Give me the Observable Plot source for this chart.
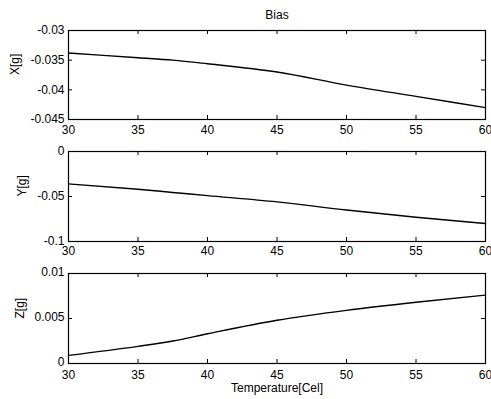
<!DOCTYPE html>
<html>
<head>
<meta charset="utf-8">
<script src="https://cdn.jsdelivr.net/npm/d3@7"></script>
<script src="https://cdn.jsdelivr.net/npm/@observablehq/plot@0.6"></script>
<style>
  html, body { margin: 0; padding: 0; background: #fff; }
  #chart { width: 491px; height: 399px; }
  #chart svg { display: block; }
</style>
</head>
<body>
<div id="chart"></div>
<script>
const title = "Bias";
const xLabel = "Temperature[Cel]";
const temps = [30, 35, 37.5, 40, 45, 50, 55, 60];
const xBias = [-0.0338, -0.0346, -0.0350, -0.0356, -0.0370, -0.0392, -0.0411, -0.0430];
const yBias = [-0.036, -0.042, -0.0455, -0.049, -0.056, -0.065, -0.073, -0.080];
const zBias = [0.0009, 0.0019, 0.0025, 0.0033, 0.0048, 0.0059, 0.0068, 0.0076];
const xTicks = [30, 35, 40, 45, 50, 55, 60];
const xYTicks = [-0.045, -0.04, -0.035, -0.03];
const yYTicks = [-0.1, -0.05, 0];
const zYTicks = [0, 0.005, 0.01];

const W = 491, ML = 68, MR = 6;
const PW = W - ML - MR;

function panel({values, domain, yTicks, label, labelDx, height, marginTop, marginBottom, showTitle, showXLabel, xPad = 5, yDy = 0}) {
  const ph = height - marginTop - marginBottom;
  const marks = [
    Plot.frame({stroke: "black", strokeWidth: 1.2}),
    Plot.tickX(xTicks, {x: d => d, insetTop: ph - 4, stroke: "black"}),
    Plot.tickX(xTicks, {x: d => d, insetBottom: ph - 4, stroke: "black"}),
    Plot.tickY(yTicks, {y: d => d, insetRight: PW - 4, stroke: "black"}),
    Plot.tickY(yTicks, {y: d => d, insetLeft: PW - 4, stroke: "black"}),
    Plot.axisX({ticks: xTicks, tickSize: 0, tickPadding: xPad, tickFormat: d => String(d), label: null, fontSize: 12}),
    Plot.axisY({ticks: yTicks, tickSize: 0, tickPadding: 4, dy: yDy, tickFormat: d => String(d), label: null, fontSize: 12}),
    Plot.line(temps, {x: temps, y: values, stroke: "black", strokeWidth: 1.4, curve: "monotone-x"}),
    Plot.text([label], {frameAnchor: "left", rotate: -90, dx: labelDx, fontSize: 12, fill: "black"})
  ];
  if (showTitle) marks.push(Plot.text([title], {frameAnchor: "top", lineAnchor: "middle", dy: -15, fontSize: 12, fill: "black"}));
  if (showXLabel) marks.push(Plot.text([xLabel], {frameAnchor: "bottom", lineAnchor: "middle", dy: 25, fontSize: 12, fill: "black"}));
  return Plot.plot({
    width: W,
    height,
    marginLeft: ML,
    marginRight: MR,
    marginTop,
    marginBottom,
    style: {fontFamily: "Arial, 'Liberation Sans', sans-serif", fontSize: "12px", color: "black", background: "white"},
    x: {domain: [30, 60]},
    y: {domain},
    marks
  });
}

const chart = document.getElementById("chart");
chart.append(panel({values: xBias, domain: [-0.045, -0.03], yTicks: xYTicks, label: "X[g]", labelDx: -53, height: 140, marginTop: 30, marginBottom: 21, showTitle: true, xPad: 6}));
chart.append(panel({values: yBias, domain: [-0.1, 0], yTicks: yYTicks, label: "Y[g]", labelDx: -46, height: 122, marginTop: 11, marginBottom: 21, xPad: 5}));
chart.append(panel({values: zBias, domain: [0, 0.01], yTicks: zYTicks, label: "Z[g]", labelDx: -48, height: 137, marginTop: 11, marginBottom: 36, showXLabel: true, xPad: 7, yDy: -1}));
</script>
</body>
</html>
